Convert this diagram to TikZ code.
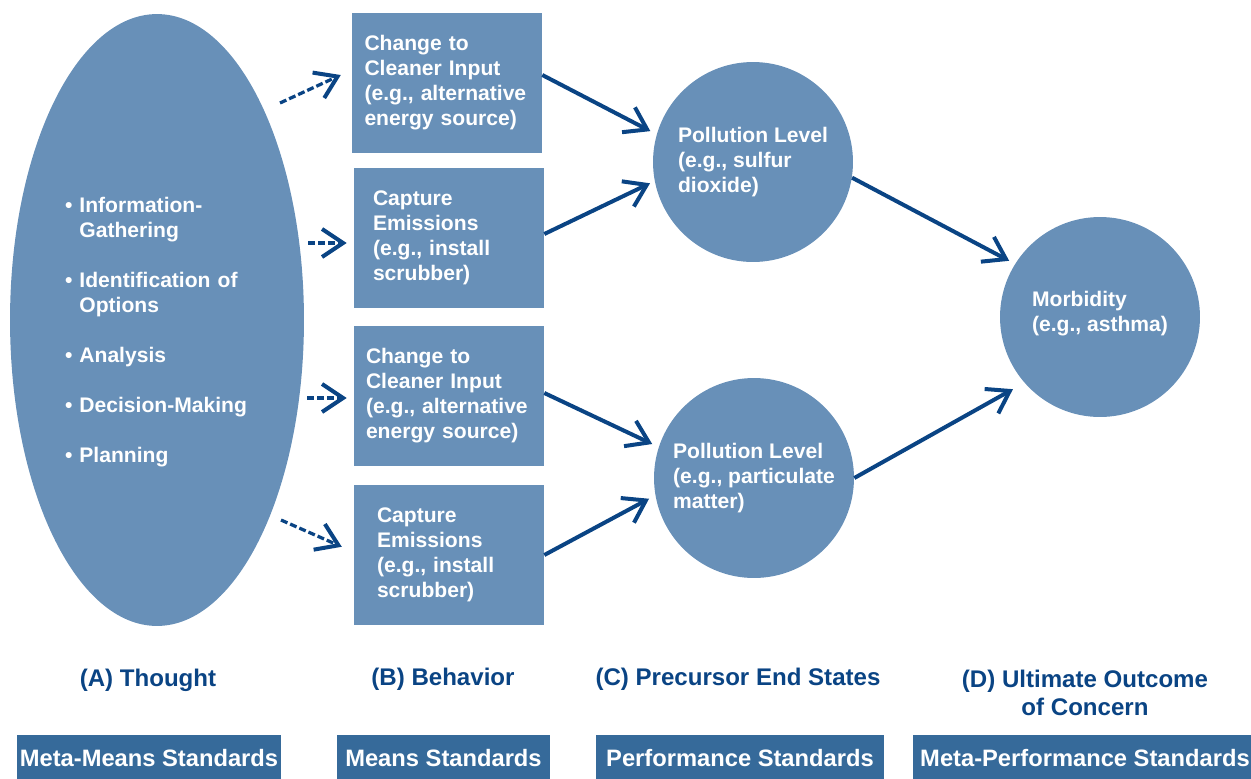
\documentclass[tikz,border=0pt]{standalone}
\usepackage{fontspec}
\setmainfont{Liberation Sans}
\usetikzlibrary{shapes.geometric,arrows.meta}
\definecolor{shapeblue}{RGB}{104,144,184}
\definecolor{stdblue}{RGB}{54,106,154}
\definecolor{navy}{RGB}{10,68,132}
\begin{document}
\begin{tikzpicture}[x=0.02cm,y=-0.02cm,
    every node/.style={font=\bfseries\fontsize{12}{14.2}\selectfont,text=white},
    box/.style={rectangle,fill=shapeblue,minimum width=3.8cm,minimum height=2.8cm,inner sep=0pt,align=left},
    blob/.style={circle,fill=shapeblue,minimum size=4cm,inner sep=0pt,align=left},
    stage/.style={text=navy,font=\bfseries\fontsize{13.7}{15.9}\selectfont,align=center},
    std/.style={fill=stdblue,minimum height=0.92cm,inner sep=0pt,font=\bfseries\fontsize{13.5}{16}\selectfont},
    arr/.style={navy,line width=0.08cm,-{Straight Barb[length=0.42cm,width=0.56cm,line width=0.08cm]}},
    darr/.style={arr,line width=0.065cm,dash pattern=on 0.14cm off 0.06cm}]
  \useasboundingbox (0,0) rectangle (1251,778);

  \path (157,320) node[ellipse,fill=shapeblue,minimum width=5.88cm,minimum height=12.24cm,
      inner sep=0pt,text width=3.68cm,align=left] (A)
    {\rule{0pt}{0.8cm}\textbullet~Information-\\\hphantom{\textbullet~}Gathering\\[0.5cm]
     \textbullet~Identification of\\\hphantom{\textbullet~}Options\\[0.5cm]
     \textbullet~Analysis\\[0.5cm]
     \textbullet~Decision-Making\\[0.5cm]
     \textbullet~Planning};

  \path (447,83) node[box,text width=3.3cm] (B1) {Change to\\Cleaner Input\\(e.g., alternative\\energy source)};
  \path (449,238) node[box,text width=3.04cm] (B2) {Capture\\Emissions\\(e.g., install\\scrubber)};
  \path (449,396) node[box,text width=3.32cm] (B3) {Change to\\Cleaner Input\\(e.g., alternative\\energy source)};
  \path (449,555) node[box,text width=2.88cm] (B4) {Capture\\Emissions\\(e.g., install\\scrubber)};

  \path (753,162) node[blob] (C1) {Pollution Level\\(e.g., sulfur\\dioxide)};
  \path (754,478) node[blob] (C2) {Pollution Level\\(e.g., particulate\\matter)};
  \path (1100,317) node[blob] (D) {Morbidity\\(e.g., asthma)\vspace*{0.12cm}};

  \path (148,680) node[stage] (LA) {(A) Thought};
  \path (443,679) node[stage] (LB) {(B) Behavior};
  \path (738,679) node[stage] (LC) {(C) Precursor End States};
  \path (1085,693) node[stage] (LD) {(D) Ultimate Outcome\\of Concern};

  \path (149,758) node[std,minimum width=5.28cm] (SA) {Meta-Means Standards};
  \path (443.5,758) node[std,minimum width=4.26cm] (SB) {Means Standards};
  \path (740,758) node[std,minimum width=5.76cm] (SC) {Performance Standards};
  \path (1085,758) node[std,minimum width=6.88cm] (SD) {Meta-Performance Standards};

  \coordinate (t1) at (280,103);
  \coordinate (t2) at (308,243);
  \coordinate (t3) at (307,398);
  \coordinate (t4) at (281,520);

  \draw[darr,shorten >=0.24cm] (t1) -- ([shift={(0,-13)}]B1.west);
  \draw[darr,shorten >=0.14cm] (t2) -- ([shift={(0,5)}]B2.west);
  \draw[darr,shorten >=0.14cm] (t3) -- ([shift={(0,2)}]B3.west);
  \draw[darr,shorten >=0.26cm] (t4) -- ([shift={(0,-3)}]B4.west);

  \draw[arr,shorten >=0.14cm] ([shift={(0,-8)}]B1.east) -- (C1.164);
  \draw[arr,shorten >=0.1cm] ([shift={(0,-4)}]B2.east) -- (C1.191);
  \draw[arr,shorten >=0.14cm] ([shift={(0,-3)}]B3.east) -- (C2.162);
  \draw[arr,shorten >=0.14cm] (B4.east) -- (C2.190);
  \draw[arr,shorten >=0.13cm] (C1.-9) -- (D.148);
  \draw[arr,shorten >=0.26cm] (C2.0) -- (D.221);
\end{tikzpicture}
\end{document}
